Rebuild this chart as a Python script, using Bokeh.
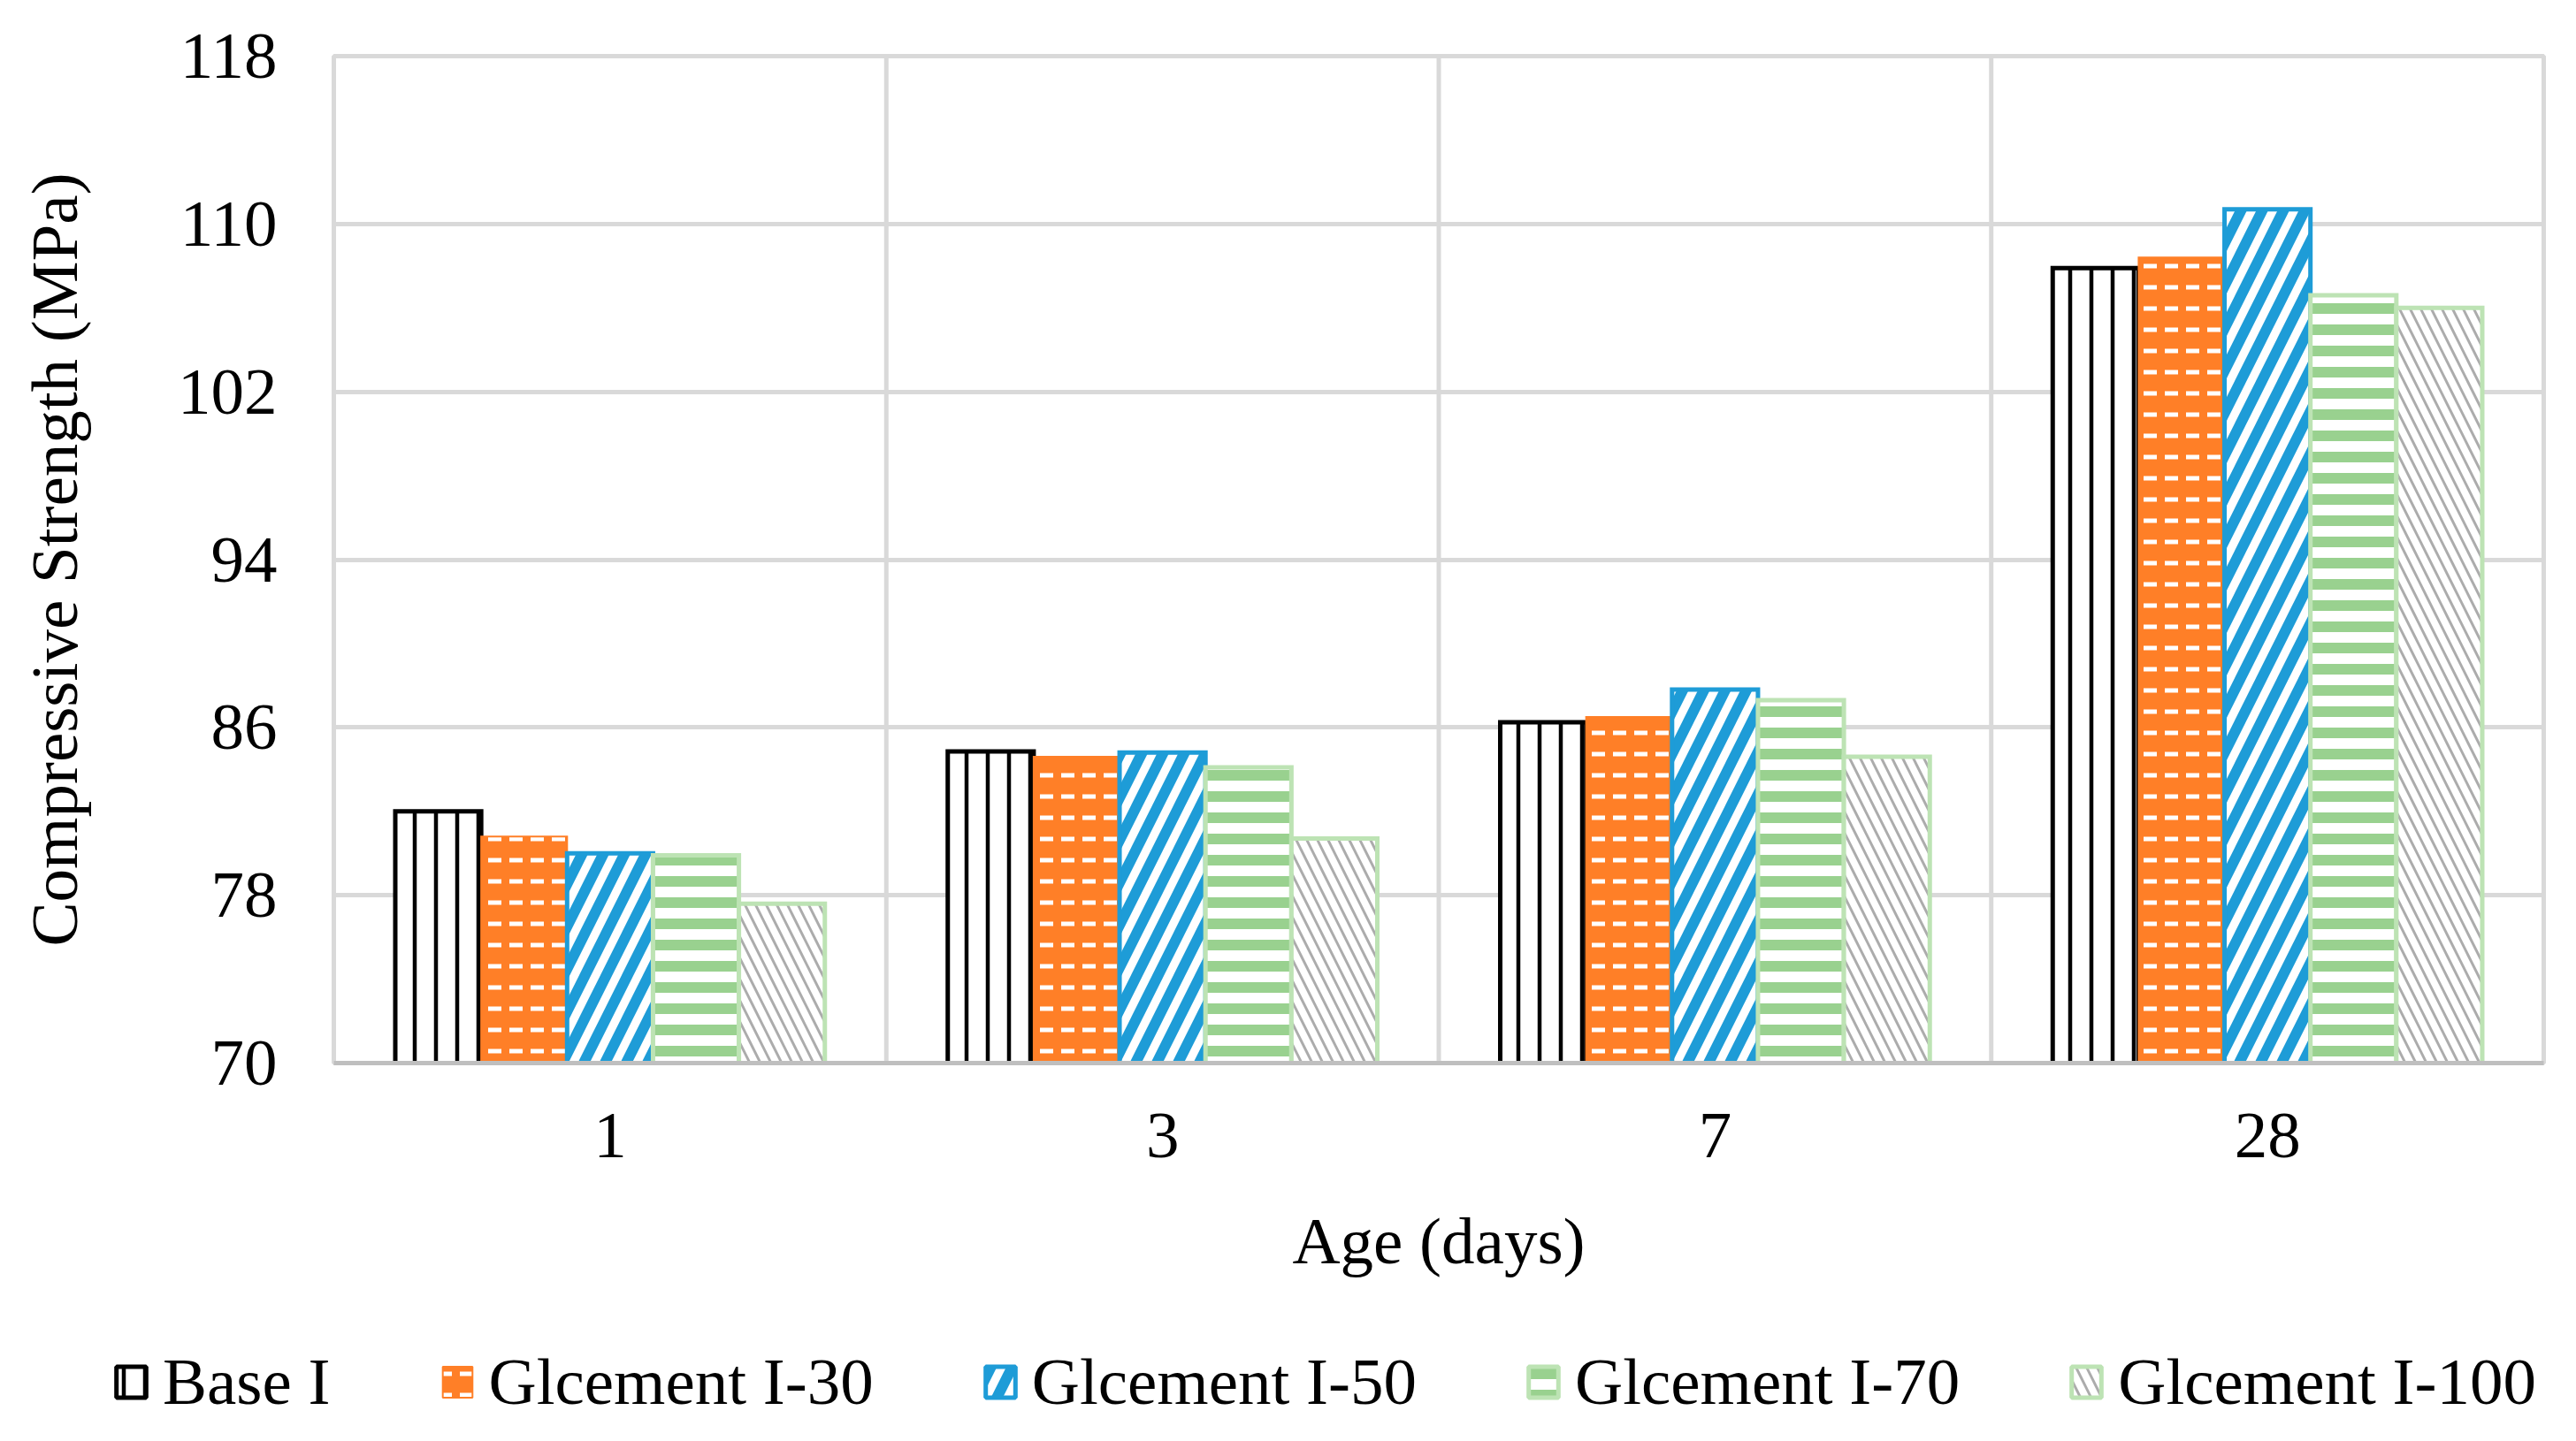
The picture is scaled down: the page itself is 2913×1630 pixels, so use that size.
from bokeh.plotting import figure
from bokeh.layouts import column, row
from bokeh.models import (FactorRange, Range1d, FixedTicker, Span, Legend,
                          LegendItem, ColumnDataSource)
from bokeh.transform import dodge
from bokeh.embed import file_html
from bokeh.resources import INLINE

# ---- data ----
days = ["1", "3", "7", "28"]
series_names = ["Base I", "Glcement I-30", "Glcement I-50", "Glcement I-70", "Glcement I-100"]
base_i = [82.0, 84.85, 86.25, 107.9]
gi_30 = [80.8, 84.6, 86.5, 108.4]
gi_50 = [80.0, 84.8, 87.8, 110.7]
gi_70 = [79.9, 84.1, 87.3, 106.6]
gi_100 = [77.6, 80.7, 84.6, 106.0]
y_ticks = [70, 78, 86, 94, 102, 110, 118]

src = ColumnDataSource(dict(day=days, base_i=base_i, gi_30=gi_30, gi_50=gi_50,
                            gi_70=gi_70, gi_100=gi_100))
keys = ["base_i", "gi_30", "gi_50", "gi_70", "gi_100"]

FONT = "Liberation Serif"
FS = "75px"

p = figure(x_range=FactorRange(factors=days), y_range=Range1d(70, 118),
           width=2905, height=1480, output_backend="svg", toolbar_location=None,
           min_border_left=377, min_border_right=29, min_border_top=63,
           min_border_bottom=278)
p.background_fill_color = "white"
p.border_fill_color = "white"
p.outline_line_color = "#D9D9D9"
p.outline_line_width = 5

# styles
bar_w = 0.1555
offsets = [-2 * bar_w, -bar_w, 0.0, bar_w, 2 * bar_w]
styles = [
    dict(fill_color="white", line_color="black", line_width=5,
         hatch_pattern="vertical_line", hatch_color="black", hatch_scale=24, hatch_weight=4.5),
    dict(fill_color="#FF7F27", line_color="#FF7F27", line_width=2,
         hatch_pattern="horizontal_dash", hatch_color="white", hatch_scale=24, hatch_weight=5),
    dict(fill_color="white", line_color="#1E9CD7", line_width=5,
         hatch_pattern="right_diagonal_line", hatch_color="#1E9CD7", hatch_scale=48, hatch_weight=12),
    dict(fill_color="white", line_color="#BDE3B4", line_width=5,
         hatch_pattern="horizontal_line", hatch_color="#99D18F", hatch_scale=24, hatch_weight=12),
    dict(fill_color="white", line_color="#BDE3B4", line_width=5,
         hatch_pattern="left_diagonal_line", hatch_color="#808080", hatch_scale=24,
         hatch_weight=3, hatch_alpha=0.65),
]

# gridlines between categories
p.xgrid.visible = False
for loc in [1, 2, 3]:
    p.add_layout(Span(location=loc, dimension="height", line_color="#D9D9D9",
                      line_width=5, level="underlay"))
p.ygrid.ticker = FixedTicker(ticks=y_ticks)
p.ygrid.grid_line_color = "#D9D9D9"
p.ygrid.grid_line_width = 5

for k, off, st in zip(keys, offsets, styles):
    p.vbar(x=dodge("day", off, range=p.x_range), top=k, bottom=0, width=bar_w,
           source=src, line_join="miter", **st)

# axes
p.yaxis.ticker = FixedTicker(ticks=y_ticks)
p.yaxis.axis_line_color = None
p.yaxis.major_tick_line_color = None
p.yaxis.minor_tick_line_color = None
p.yaxis.major_tick_in = 0
p.yaxis.major_tick_out = 0
p.yaxis.major_label_standoff = 64
p.yaxis.axis_label = "Compressive Strength (MPa)"
p.yaxis.axis_label_standoff = 95

p.xaxis.axis_line_color = "#BFBFBF"
p.xaxis.axis_line_width = 5
p.xaxis.major_tick_line_color = None
p.xaxis.minor_tick_line_color = None
p.xaxis.major_tick_in = 0
p.xaxis.major_tick_out = 0
p.xaxis.major_label_standoff = 57
p.xaxis.axis_label = "Age (days)"
p.xaxis.axis_label_standoff = 50

for ax in (p.xaxis[0], p.yaxis[0]):
    ax.major_label_text_font = FONT
    ax.major_label_text_font_size = FS
    ax.major_label_text_color = "black"
    ax.axis_label_text_font = FONT
    ax.axis_label_text_font_size = FS
    ax.axis_label_text_font_style = "normal"
    ax.axis_label_text_color = "black"

# ---- legend strip below the chart ----
p2 = figure(width=2905, height=142, output_backend="svg", toolbar_location=None,
            x_range=FactorRange(factors=days), y_range=Range1d(0, 1),
            x_axis_type=None, y_axis_type=None,
            min_border_left=0, min_border_right=0, min_border_top=0, min_border_bottom=0)
p2.grid.visible = False
p2.outline_line_color = None
p2.background_fill_color = "white"
p2.border_fill_color = "white"
legend_renderers = []
for k, st in zip(keys, styles):
    r = p2.vbar(x="day", top=k, bottom=0, width=bar_w, source=src, **st)
    r.visible = False  # only used for the legend swatches
    legend_renderers.append(r)

legend = Legend(items=[LegendItem(label=n, renderers=[r])
                       for n, r in zip(series_names, legend_renderers)],
                orientation="horizontal", location=(127, 16), padding=0, margin=0,
                spacing=122, glyph_width=42, glyph_height=44, label_standoff=15,
                label_text_font=FONT, label_text_font_size=FS, label_text_color="black",
                border_line_color=None, background_fill_alpha=0,
                inactive_fill_alpha=0)
p2.add_layout(legend)

page = column(p, row(p2, spacing=0), spacing=0)
open("out.html", "w").write(file_html(page, INLINE))
